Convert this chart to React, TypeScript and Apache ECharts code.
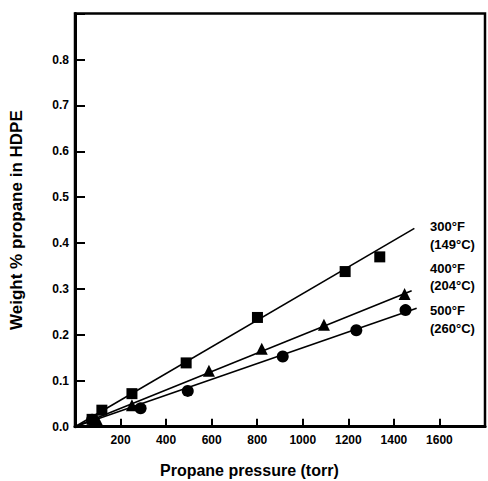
import React, { useEffect, useRef } from "react";
import * as echarts from "echarts";

// Propane pressure (torr) vs weight % propane in HDPE
const f300X = [75, 118, 250, 488, 801, 1186, 1338];
const f300Y = [0.016, 0.036, 0.072, 0.139, 0.238, 0.338, 0.37];
const f400X = [100, 250, 588, 820, 1093, 1447];
const f400Y = [0.012, 0.047, 0.122, 0.17, 0.222, 0.289];
const f500X = [75, 288, 495, 912, 1235, 1451];
const f500Y = [0.015, 0.04, 0.078, 0.153, 0.21, 0.254];

// fitted lines: start and end points
const fit300X = [0, 1490];
const fit300Y = [0, 0.432];
const fit400X = [0, 1478];
const fit400Y = [0, 0.296];
const fit500X = [0, 1500];
const fit500Y = [0, 0.258];

const xTicks = [200, 400, 600, 800, 1000, 1200, 1400, 1600];
const yTicks = [0.0, 0.1, 0.2, 0.3, 0.4, 0.5, 0.6, 0.7, 0.8];

const seriesLabels = [
  ["300°F", "(149°C)"],
  ["400°F", "(204°C)"],
  ["500°F", "(260°C)"],
];

const zip = (xs: number[], ys: number[]) => xs.map((x, i) => [x, ys[i]]);

const FONT = '"Liberation Sans", Arial, sans-serif';

export default function App() {
  const ref = useRef<HTMLDivElement>(null);
  useEffect(() => {
    if (!ref.current) return;
    const chart = echarts.init(ref.current, undefined, { renderer: "svg" });
    const lineSeries = (name: string, xs: number[], ys: number[]) => ({
      name,
      type: "line",
      data: zip(xs, ys),
      showSymbol: false,
      symbol: "none",
      lineStyle: { color: "#000", width: 1.6 },
      z: 2,
    });
    const scatter = (name: string, xs: number[], ys: number[], symbol: string, size: number) => ({
      name,
      type: "scatter",
      data: zip(xs, ys),
      symbol,
      symbolSize: size,
      itemStyle: { color: "#000", opacity: 1 },
      z: 3,
    });
    const labelY = [227, 245, 269, 286, 311, 329];
    const graphics: any[] = [];
    seriesLabels.forEach((pair, i) => {
      pair.forEach((t, j) => {
        graphics.push({
          type: "text",
          left: 430,
          top: labelY[i * 2 + j] - 7,
          style: { text: t, fill: "#000", font: `bold 13px ${FONT}` },
        });
      });
    });
    graphics.push({
      type: "text",
      left: 160,
      top: 462,
      style: { text: "Propane pressure (torr)", fill: "#000", font: `bold 16px ${FONT}` },
    });
    chart.setOption({
      animation: false,
      backgroundColor: "#fff",
      grid: {
        left: 72.5,
        top: 13.6,
        right: -5.5,
        bottom: 54.3,
        show: true,
        borderColor: "#000",
        borderWidth: 2.5,
      },
      xAxis: {
        type: "value",
        min: 0,
        max: 1800,
        interval: 200,
        axisLine: { show: true, onZero: false, lineStyle: { color: "#000", width: 3 } },
        axisTick: { show: true, inside: true, length: 8, lineStyle: { color: "#000", width: 2 } },
        splitLine: { show: false },
        axisLabel: {
          color: "#000",
          fontFamily: FONT,
          fontWeight: "bold",
          fontSize: 12,
          margin: 7,
          formatter: (v: number) => (xTicks.includes(v) ? String(v) : ""),
        },
      },
      yAxis: {
        type: "value",
        min: 0,
        max: 0.9,
        interval: 0.1,
        name: "Weight % propane in HDPE",
        nameLocation: "middle",
        nameGap: 50,
        nameRotate: 90,
        nameTextStyle: { color: "#000", fontFamily: FONT, fontWeight: "bold", fontSize: 17 },
        axisLine: { show: true, onZero: false, lineStyle: { color: "#000", width: 3 } },
        axisTick: { show: true, inside: true, length: 10, lineStyle: { color: "#000", width: 2 } },
        splitLine: { show: false },
        axisLabel: {
          color: "#000",
          fontFamily: FONT,
          fontWeight: "bold",
          fontSize: 12,
          margin: 6,
          formatter: (v: number) => {
            const r = Math.round(v * 10) / 10;
            return yTicks.some((t) => Math.abs(t - r) < 1e-9) ? r.toFixed(1) : "";
          },
        },
      },
      graphic: graphics,
      series: [
        lineSeries("fit300", fit300X, fit300Y),
        lineSeries("fit400", fit400X, fit400Y),
        lineSeries("fit500", fit500X, fit500Y),
        scatter("300°F", f300X, f300Y, "rect", 11),
        scatter("400°F", f400X, f400Y, "triangle", 12),
        scatter("500°F", f500X, f500Y, "circle", 12),
      ],
    });
    return () => chart.dispose();
  }, []);
  return (
    <div
      ref={ref}
      style={{ position: "fixed", left: 0, top: 0, width: 488, height: 481, background: "#fff" }}
    />
  );
}
